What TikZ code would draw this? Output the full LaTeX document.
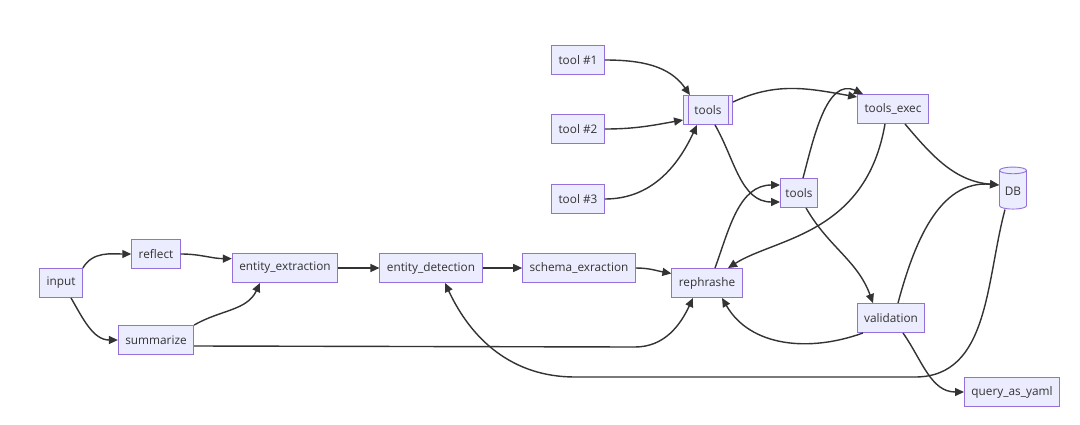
\documentclass[tikz,border=0pt]{standalone}
\usepackage{fontspec}
\setmainfont{Open Sans}
\usetikzlibrary{arrows.meta,shapes.geometric}
\definecolor{boxfill}{HTML}{ECECFF}
\definecolor{boxline}{HTML}{9370DB}
\definecolor{ink}{HTML}{333333}
\tikzset{
  stage/.style={draw=boxline,fill=boxfill,text=ink,line width=0.9pt,
    font=\fontsize{11.8}{14}\selectfont,inner xsep=7pt,minimum height=29pt},
  flow/.style={draw=ink,line width=1.4pt,-{Triangle[length=9pt,width=8pt]}},
}
\begin{document}
\begin{tikzpicture}[x=1pt,y=1pt]
\useasboundingbox[fill=white] (0,-424) rectangle (1080,0);
% chain on the left
\node[stage] (input) at (61,-283) {input};
\node[stage] (reflect) at (156,-254) {reflect};
\node[stage] (summarize) at (156,-340) {summarize};
\node[stage] (extraction) at (285,-268) {entity\_extraction};
\node[stage] (detection) at (431,-268) {entity\_detection};
\node[stage] (schema) at (579,-268) {schema\_exraction};
\node[stage] (rephrashe) at (707,-283) {rephrashe};
% tools
\node[stage] (toolA) at (578,-60) {tool \#1};
\node[stage] (toolB) at (578,-129) {tool \#2};
\node[stage] (toolC) at (578,-199) {tool \#3};
\node[stage,inner xsep=11pt] (tools) at (708,-110) {tools};
\draw[boxline,line width=0.9pt] ([xshift=5pt]tools.north west) -- ([xshift=5pt]tools.south west);
\draw[boxline,line width=0.9pt] ([xshift=-5pt]tools.north east) -- ([xshift=-5pt]tools.south east);
\node[stage,inner xsep=5pt] (toolsb) at (799,-193) {tools};
\node[stage] (exec) at (893,-109) {tools\_exec};
\node[stage,cylinder,shape border rotate=90,aspect=0.3,inner xsep=3pt,
  minimum width=27pt,minimum height=42pt] (db) at (1013,-191) {DB};
\node[stage] (validation) at (891,-318) {validation};
\node[stage] (yaml) at (1012,-392) {query\_as\_yaml};
% connectors
\draw[flow] (input.north east) to[out=60,in=180] (reflect.west);
\draw[flow] ([xshift=10pt]input.south) to[out=-60,in=180] (summarize.west);
\draw[flow] (reflect.east) to[out=0,in=180] (extraction.170);
\draw[flow] (summarize.north east) to[out=30,in=-115] ([xshift=-25pt]extraction.south);
\draw[flow] (extraction.east) -- (detection.west);
\draw[flow] (detection.east) -- (schema.west);
\draw[flow] (schema.east) to[out=0,in=170] (rephrashe.165);
\coordinate (sumbend) at (635,-347);
\draw[flow] ([yshift=-6pt]summarize.east) -- (sumbend) to[out=0,in=-115] ([xshift=-14pt]rephrashe.south);
\draw[flow] (toolA.east) to[out=0,in=125] ([xshift=-18pt]tools.north);
\draw[flow] (toolB.east) to[out=0,in=190] ([yshift=-10pt]tools.west);
\draw[flow] (toolC.east) to[out=0,in=-115] ([xshift=-11pt]tools.south);
\draw[flow] ([yshift=8pt]tools.east) to[out=25,in=170] ([yshift=12pt]exec.west);
\draw[flow] ([xshift=7pt]tools.south) to[out=-60,in=180] ([yshift=-9pt]toolsb.west);
\draw[flow] ([xshift=8pt]rephrashe.north) to[out=70,in=180] ([yshift=8pt]toolsb.west);
\draw[flow] ([xshift=4pt]toolsb.north) to[out=75,in=155] ([xshift=-30pt]exec.north);
\draw[flow] ([xshift=-8pt]exec.south) .. controls (866,-235) and (775,-238) .. ([xshift=21pt]rephrashe.north);
\draw[flow] ([xshift=12pt]exec.south) to[out=-50,in=175] ([yshift=6pt]db.west);
\draw[flow] ([xshift=7pt]toolsb.south) to[out=-60,in=110] ([xshift=-18pt]validation.north);
\draw[flow] ([xshift=7pt]validation.north) to[out=75,in=175] ([yshift=6pt]db.west);
\draw[flow] ([xshift=-28pt]validation.south) to[out=200,in=-60] ([xshift=15pt]rephrashe.south);
\draw[flow] ([xshift=12pt]validation.south) to[out=-55,in=180] (yaml.west);
\coordinate (dbbend) at (915,-377);
\coordinate (detbend) at (575,-377);
\draw[flow] ([xshift=-8pt]db.south) to[out=-105,in=0] (dbbend) -- (detbend)
  to[out=180,in=-65] ([xshift=14pt]detection.south);
\end{tikzpicture}
\end{document}
